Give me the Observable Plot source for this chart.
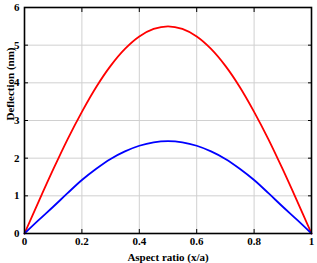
<!DOCTYPE html>
<html>
<head>
<meta charset="utf-8">
<script src="https://cdn.jsdelivr.net/npm/d3@7"></script>
<script src="https://cdn.jsdelivr.net/npm/@observablehq/plot@0.6"></script>
<style>
html,body{margin:0;padding:0;background:#fff;}
svg{display:block;}
</style>
</head>
<body>
<div id="chart"></div>
<script>
const xs = [0,0.05,0.1,0.15,0.2,0.25,0.3,0.35,0.4,0.45,0.5,0.55,0.6,0.65,0.7,0.75,0.8,0.85,0.9,0.95,1];
const redVals = [0,0.86,1.70,2.50,3.23,3.89,4.45,4.90,5.23,5.43,5.5,5.43,5.23,4.90,4.45,3.89,3.23,2.50,1.70,0.86,0];
const blueVals = [0,0.36,0.71,1.07,1.42,1.72,1.98,2.18,2.33,2.42,2.45,2.42,2.33,2.18,1.98,1.72,1.42,1.07,0.71,0.36,0];
const xTicks = [0,0.2,0.4,0.6,0.8,1];
const yTicks = [0,1,2,3,4,5,6];
const xLabel = "Aspect ratio (x/a)";
const yLabel = "Deflection (nm)";

const red = xs.map((x,i)=>({x, y: redVals[i]}));
const blue = xs.map((x,i)=>({x, y: blueVals[i]}));

const chart = Plot.plot({
  width: 317,
  height: 263,
  marginLeft: 24,
  marginRight: 6,
  marginTop: 7,
  marginBottom: 30,
  style: {fontFamily: "'Liberation Serif', serif", fontWeight: "bold", fontSize: "11px", color: "#000", background: "#fff"},
  x: {domain: [0,1]},
  y: {domain: [0,6]},
  marks: [
    Plot.gridX(xTicks, {stroke: "#d0d0d0", strokeOpacity: 1, strokeWidth: 1}),
    Plot.gridY(yTicks, {stroke: "#d0d0d0", strokeOpacity: 1, strokeWidth: 1}),
    Plot.axisX(xTicks, {anchor: "bottom", tickSize: 0, tickPadding: 4, label: null, tickFormat: d => String(d), fontSize: 11, fontWeight: "bold"}),
    Plot.axisX(xTicks, {anchor: "bottom", tickSize: -4, label: null, tickFormat: () => ""}),
    Plot.axisX(xTicks, {anchor: "top", tickSize: -4, label: null, tickFormat: () => ""}),
    Plot.axisY(yTicks, {anchor: "left", tickSize: 0, tickPadding: 5, label: null, fontSize: 11, fontWeight: "bold"}),
    Plot.axisY(yTicks, {anchor: "left", tickSize: -4, label: null, tickFormat: () => ""}),
    Plot.axisY(yTicks, {anchor: "right", tickSize: -4, label: null, tickFormat: () => ""}),
    Plot.line(red, {x: "x", y: "y", stroke: "#ff0000", strokeWidth: 1.8, curve: "catmull-rom"}),
    Plot.line(blue, {x: "x", y: "y", stroke: "#0000ff", strokeWidth: 1.8, curve: "catmull-rom"}),
    Plot.frame({stroke: "#000", strokeWidth: 1.6}),
    Plot.text([xLabel], {frameAnchor: "bottom", dy: 27, fontSize: 11, fontWeight: "bold"}),
    Plot.text([yLabel], {frameAnchor: "left", dx: -14, rotate: -90, fontSize: 11, fontWeight: "bold"})
  ]
});
document.getElementById("chart").appendChild(chart);
</script>
</body>
</html>
